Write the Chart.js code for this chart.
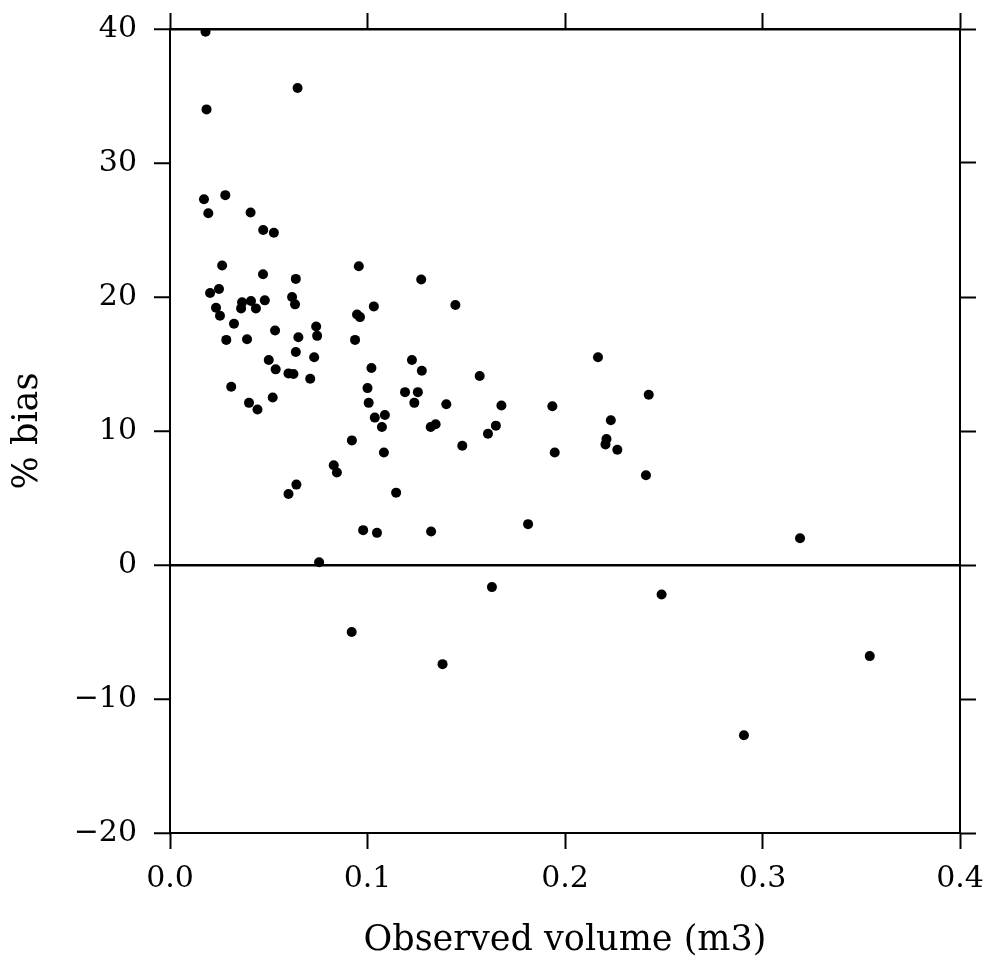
<!DOCTYPE html>
<html>
<head>
<meta charset="utf-8">
<title>% bias vs observed volume</title>
<script src="https://cdn.jsdelivr.net/npm/chart.js@4.4.1/dist/chart.umd.min.js"></script>
<style>
  html, body { margin: 0; padding: 0; background: #fff; }
  #chart-canvas { display: block; }
</style>
</head>
<body>
<canvas id="chart-canvas" width="984" height="976"></canvas>
<script>
// observed volume (m3)
const volume = [
  0.018, 0.0646, 0.0185, 0.0172, 0.028, 0.0194, 0.0408, 0.0472, 0.0526, 0.0264,
  0.0471, 0.0637, 0.0203, 0.0248, 0.0233, 0.0253, 0.0324, 0.0365, 0.036, 0.041,
  0.0435, 0.048, 0.0618, 0.0633, 0.0285, 0.039, 0.0532, 0.065, 0.074, 0.0745,
  0.0637, 0.073, 0.050, 0.0535, 0.060, 0.0625, 0.071, 0.031, 0.040, 0.0443,
  0.052, 0.064, 0.060, 0.0755, 0.0956, 0.1272, 0.1032, 0.1445, 0.0947, 0.0962,
  0.0937, 0.2167, 0.1225, 0.1275, 0.102, 0.1568, 0.100, 0.119, 0.1255, 0.2424,
  0.1006, 0.1237, 0.1399, 0.1678, 0.1936, 0.1037, 0.1088, 0.1073, 0.2232, 0.1320,
  0.1345, 0.165, 0.161, 0.0921, 0.221, 0.2205, 0.1480, 0.2265, 0.1083, 0.1948,
  0.0829, 0.0845, 0.2410, 0.1145, 0.0978, 0.1048, 0.1322, 0.1813, 0.319, 0.2489,
  0.3543, 0.092, 0.138, 0.163, 0.2906
]

// % bias, same order as volume
const bias = [
  39.8, 35.6, 34.0, 27.3, 27.6, 26.25, 26.3, 25.0, 24.8, 22.35,
  21.7, 21.35, 20.3, 20.6, 19.2, 18.6, 18.0, 19.6, 19.15, 19.7,
  19.15, 19.75, 20.0, 19.45, 16.8, 16.85, 17.5, 17.0, 17.8, 17.1,
  15.9, 15.5, 15.3, 14.6, 14.3, 14.25, 13.9, 13.3, 12.1, 11.6,
  12.5, 6.0, 5.3, 0.2, 22.3, 21.3, 19.3, 19.4, 18.7, 18.5,
  16.8, 15.5, 15.3, 14.5, 14.7, 14.1, 13.2, 12.9, 12.9, 12.7,
  12.1, 12.1, 12.0, 11.9, 11.85, 11.0, 11.2, 10.3, 10.8, 10.3,
  10.5, 10.4, 9.8, 9.3, 9.4, 9.0, 8.9, 8.6, 8.4, 8.4,
  7.45, 6.9, 6.7, 5.4, 2.6, 2.4, 2.5, 3.05, 2.0, -2.2,
  -6.8, -5.0, -7.4, -1.65, -12.7
]

const xTicks = [0, 0.1, 0.2, 0.3, 0.4]
const xTickLabels = ['0.0', '0.1', '0.2', '0.3', '0.4']
const yTicks = [-20, -10, 0, 10, 20, 30, 40]
const yTickLabels = ['\u221220', '\u221210', '0', '10', '20', '30', '40']

Chart.defaults.font.family = "'DejaVu Serif', 'Liberation Serif', serif"
Chart.defaults.color = '#000'

const points = volume.map((v, i) => ({ x: v, y: bias[i] }))

// tick marks outside on every side, no grid
function frameGrid (extra) {
  return Object.assign({
    drawOnChartArea: false,
    drawTicks: true,
    tickLength: 16,
    tickColor: '#000',
    tickWidth: 2
  }, extra)
}

function useTicks (values) {
  return function (scale) {
    scale.ticks = values.map(v => ({ value: v }))
  }
}

// fixed axis size, and no extra room for overhanging labels
function sizeTo (prop, px) {
  return function (scale) {
    scale[prop] = px
    scale.paddingTop = 0
    scale.paddingBottom = 0
    scale.paddingLeft = 0
    scale.paddingRight = 0
  }
}

const ctx = document.getElementById('chart-canvas')

new Chart(ctx, {
  type: 'scatter',
  data: {
    datasets: [{
      data: points,
      pointRadius: 5,
      pointHoverRadius: 5,
      pointBackgroundColor: '#000',
      pointBorderColor: '#000',
      pointBorderWidth: 0
    }]
  },
  options: {
    animation: false,
    responsive: false,
    devicePixelRatio: 1,
    layout: { padding: 0, autoPadding: false },
    plugins: {
      legend: { display: false },
      tooltip: { enabled: false }
    },
    scales: {
      x: {
        type: 'linear',
        position: 'bottom',
        min: 0,
        max: 0.4,
        afterBuildTicks: useTicks(xTicks),
        afterFit: sizeTo('height', 143),
        ticks: {
          padding: 12,
          maxRotation: 0,
          font: { size: 30 },
          callback: (val, index) => xTickLabels[index]
        },
        grid: frameGrid(),
        border: { display: true, color: '#000', width: 2 },
        title: {
          display: true,
          text: 'Observed volume (m3)',
          font: { size: 35 },
          padding: { top: 0, bottom: 14 }
        }
      },
      x2: {
        type: 'linear',
        position: 'top',
        min: 0,
        max: 0.4,
        afterBuildTicks: useTicks(xTicks),
        afterFit: sizeTo('height', 29),
        ticks: { display: false },
        grid: frameGrid(),
        border: { display: true, color: '#000', width: 2.4 }
      },
      y: {
        type: 'linear',
        position: 'left',
        min: -20,
        max: 40,
        afterBuildTicks: useTicks(yTicks),
        afterFit: sizeTo('width', 170),
        ticks: {
          padding: 17,
          font: { size: 30 },
          callback: (val, index) => yTickLabels[index]
        },
        grid: frameGrid({
          drawOnChartArea: true,
          color: c => (c.tick && c.tick.value === 0 ? '#000' : 'rgba(0,0,0,0)'),
          lineWidth: 2.5
        }),
        border: { display: true, color: '#000', width: 2 },
        title: {
          display: true,
          text: '% bias',
          font: { size: 35 },
          padding: { top: 7, bottom: 0 }
        }
      },
      y2: {
        type: 'linear',
        position: 'right',
        min: -20,
        max: 40,
        afterBuildTicks: useTicks(yTicks),
        afterFit: sizeTo('width', 24),
        ticks: { display: false },
        grid: frameGrid(),
        border: { display: true, color: '#000', width: 2 }
      }
    }
  }
})
</script>
</body>
</html>
